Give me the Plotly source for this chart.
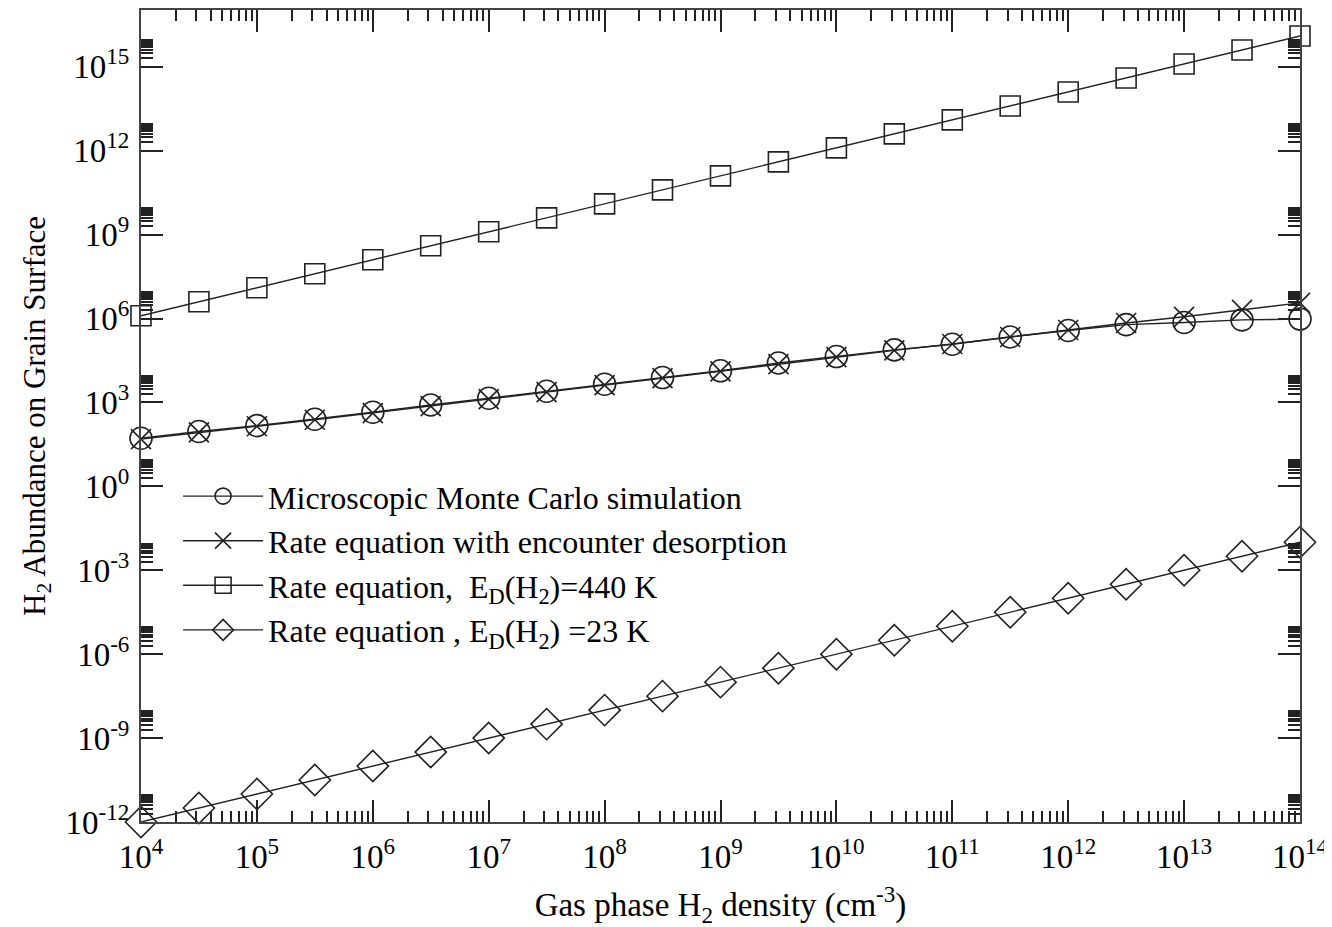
import plotly.graph_objects as go

# Gas phase H2 density (cm^-3)
density = [1e4, 3.16e4, 1e5, 3.16e5, 1e6, 3.16e6, 1e7, 3.16e7, 1e8, 3.16e8,
           1e9, 3.16e9, 1e10, 3.16e10, 1e11, 3.16e11, 1e12, 3.16e12, 1e13,
           3.16e13, 1e14]

# Microscopic Monte Carlo simulation
monte_carlo = [52.5, 91.2, 148, 251, 447, 813, 1.41e3, 2.51e3, 4.47e3, 7.76e3,
               1.35e4, 2.57e4, 4.37e4, 7.59e4, 1.20e5, 2.19e5, 3.72e5, 6.03e5,
               7.24e5, 8.91e5, 9.55e5]

# Rate equation with encounter desorption
rate_encounter = [49.0, 85.1, 141, 240, 417, 741, 1.32e3, 2.34e3, 4.17e3,
                  7.41e3, 1.29e4, 2.34e4, 4.17e4, 7.24e4, 1.23e5, 2.19e5,
                  3.89e5, 6.92e5, 1.15e6, 2.04e6, 3.63e6]

# Rate equation, E_D(H2)=440 K
rate_440 = [1.26e6, 3.98e6, 1.26e7, 3.98e7, 1.26e8, 3.98e8, 1.26e9, 3.98e9,
            1.26e10, 3.98e10, 1.26e11, 3.98e11, 1.26e12, 3.98e12, 1.26e13,
            3.98e13, 1.26e14, 3.98e14, 1.26e15, 3.98e15, 1.26e16]

# Rate equation, E_D(H2)=23 K
rate_23 = [1e-12, 3.16e-12, 1e-11, 3.16e-11, 1e-10, 3.16e-10, 1e-9, 3.16e-9,
           1e-8, 3.16e-8, 1e-7, 3.16e-7, 1e-6, 3.16e-6, 1e-5, 3.16e-5, 1e-4,
           3.16e-4, 1e-3, 3.16e-3, 1e-2]

x_tick_exps = [4, 5, 6, 7, 8, 9, 10, 11, 12, 13, 14]
y_tick_exps = [-12, -9, -6, -3, 0, 3, 6, 9, 12, 15]

FONT = "Liberation Serif"
INK = "#222222"

fig = go.Figure()

series = [
    ("Microscopic Monte Carlo simulation", monte_carlo, "circle-open", 22),
    ("Rate equation with encounter desorption", rate_encounter, "x-thin-open", 20),
    ("Rate equation,  E<sub>D</sub>(H<sub>2</sub>)=440 K", rate_440, "square-open", 20),
    ("Rate equation , E<sub>D</sub>(H<sub>2</sub>) =23 K", rate_23, "diamond-open", 24),
]
for name, ys, sym, size in series:
    fig.add_trace(go.Scatter(
        x=density, y=ys, mode="lines+markers", name=name,
        line=dict(color=INK, width=1.4),
        marker=dict(symbol=sym, size=size, color=INK,
                    line=dict(color=INK, width=1.6)),
        cliponaxis=False,
    ))

x_minor = [k * 10.0 ** e for e in range(4, 14) for k in range(2, 10)]
y_minor = [k * 10.0 ** e for e in range(-12, 16, 3) for k in range(2, 10)]

fig.update_xaxes(
    type="log", range=[4, 14], automargin=False,
    tickvals=[10.0 ** e for e in x_tick_exps],
    ticktext=[f"10<sup>{e}</sup>" for e in x_tick_exps],
    ticks="inside", ticklen=22, tickwidth=1.5, tickcolor=INK,
    minor=dict(tickvals=x_minor, ticks="inside", ticklen=11, tickwidth=1.5,
               tickcolor=INK, showgrid=False),
    showline=True, linecolor="#444444", linewidth=2, mirror="ticks",
    showgrid=False, zeroline=False,
    ticklabelstandoff=4,
    tickfont=dict(family=FONT, size=33, color="black"),
    title=dict(text="Gas phase H<sub>2</sub> density (cm<sup>-3</sup>)",
               font=dict(family=FONT, size=33, color="black"), standoff=19),
)
fig.update_yaxes(
    type="log", range=[-12, 17.03], automargin=False,
    tickvals=[10.0 ** e for e in y_tick_exps],
    ticktext=[f"10<sup>{e}</sup>" for e in y_tick_exps],
    ticks="inside", ticklen=22, tickwidth=1.5, tickcolor=INK,
    minor=dict(tickvals=y_minor, ticks="inside", ticklen=12, tickwidth=1.5,
               tickcolor=INK, showgrid=False),
    showline=True, linecolor="#444444", linewidth=2, mirror="ticks",
    showgrid=False, zeroline=False,
    ticklabelstandoff=3,
    tickfont=dict(family=FONT, size=33, color="black"),
    title=dict(text="H<sub>2</sub> Abundance on Grain Surface",
               font=dict(family=FONT, size=31, color="black"), standoff=11),
)

fig.update_layout(
    width=1332, height=927,
    margin=dict(l=133, r=40, t=2, b=113),
    paper_bgcolor="white", plot_bgcolor="white",
    showlegend=True,
    legend=dict(x=0.032, y=0.435, xanchor="left", yanchor="top",
                bgcolor="rgba(0,0,0,0)", borderwidth=0,
                itemwidth=80, tracegroupgap=0,
                font=dict(family=FONT, size=32, color="black")),
)

fig.write_html("out.html")
